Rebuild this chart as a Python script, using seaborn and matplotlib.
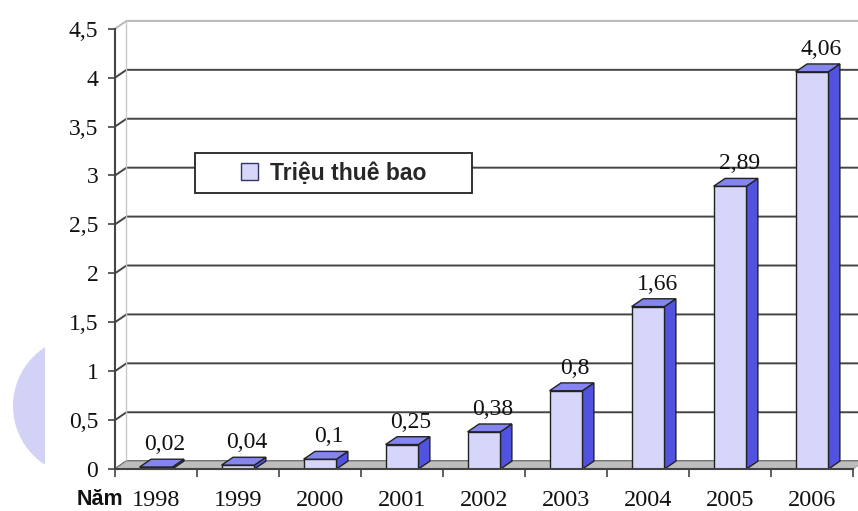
import matplotlib
matplotlib.use("Agg")
import matplotlib.pyplot as plt
from matplotlib.patches import Polygon, Rectangle, Circle
import seaborn as sns
import pandas as pd

# Data
years = ["1998", "1999", "2000", "2001", "2002", "2003", "2004", "2005", "2006"]
subscribers = [0.02, 0.04, 0.1, 0.25, 0.38, 0.8, 1.66, 2.89, 4.06]
value_labels = ["0,02", "0,04", "0,1", "0,25", "0,38", "0,8", "1,66", "2,89", "4,06"]
y_ticks = [0, 0.5, 1, 1.5, 2, 2.5, 3, 3.5, 4, 4.5]
y_tick_labels = ["0", "0,5", "1", "1,5", "2", "2,5", "3", "3,5", "4", "4,5"]
series_name = "Triệu thuê bao"
x_title = "Năm"

df = pd.DataFrame({"year": years, "value": subscribers})

FRONT = "#d6d6fa"
SIDE = "#5252e0"
TOP = "#8585f0"
EDGE = "#222222"
GRID = "#444444"

sns.set_theme(style="white")
plt.rcParams["font.family"] = ["Liberation Serif", "DejaVu Serif"]

W, H = 858, 511
fig = plt.figure(figsize=(W / 100, H / 100), dpi=100)

# decorative circle at far left
deco = fig.add_axes([0, 0, 45 / W, 1])
deco.set_xlim(0, 45)
deco.set_ylim(H, 0)
deco.axis("off")
deco.add_patch(Circle((83, 406), 70, color="#d2d2f6", lw=0))

ax_left, ax_right, ax_bottom, ax_top = 115, 853, 469, 17
ax = fig.add_axes([ax_left / W, (H - ax_bottom) / H,
                   (ax_right - ax_left) / W, (ax_bottom - ax_top) / H])

sns.barplot(data=df, x="year", y="value", color=FRONT, width=0.4,
            edgecolor=EDGE, linewidth=1.0, saturation=1, ax=ax, zorder=5,
            label=series_name)

ymax = 4.62
ax.set_xlim(-0.5, 8.5)
ax.set_ylim(0, ymax)
dx, dy = 0.14, 0.08

# back wall: gridlines with short diagonal from the axis
for t in y_ticks:
    c = "#b8b8b8" if t == y_ticks[-1] else GRID
    ax.plot([-0.5, -0.5 + dx, 8.5 + dx], [t, t + dy, t + dy], color=c,
            lw=1.4, zorder=1, clip_on=False, solid_capstyle="butt")
ax.plot([-0.5 + dx, -0.5 + dx], [dy, 4.5 + dy], color="#c8c8c8", lw=1.0, zorder=1)

# floor
ax.add_patch(Polygon([(-0.5, 0), (8.5, 0), (8.5 + dx, dy), (-0.5 + dx, dy)],
                     closed=True, facecolor="#bdbdbd", edgecolor="#9a9a9a",
                     lw=0.6, zorder=2, clip_on=False))

# 3D faces for each bar
for p, lab in zip(ax.patches[:len(years)], value_labels):
    x0 = p.get_x()
    x1 = x0 + p.get_width()
    h = p.get_height()
    ax.add_patch(Polygon([(x1, 0), (x1 + dx, dy), (x1 + dx, h + dy), (x1, h)],
                         closed=True, facecolor=SIDE, edgecolor=EDGE, lw=1.0,
                         zorder=4))
    ax.add_patch(Polygon([(x0, h), (x1, h), (x1 + dx, h + dy), (x0 + dx, h + dy)],
                         closed=True, facecolor=TOP, edgecolor=EDGE, lw=1.0,
                         zorder=6))
    ax.annotate(lab, (x0 + p.get_width() / 2 + dx * 0.8, h + dy),
                xytext=(0, 3), textcoords="offset points", ha="center",
                va="bottom", fontsize=17, color="#111111", zorder=7)

# axes styling
for s in ["top", "right"]:
    ax.spines[s].set_visible(False)
ax.spines["left"].set_color(GRID)
ax.spines["left"].set_linewidth(1.5)
ax.spines["left"].set_bounds(0, 4.5)
ax.spines["bottom"].set_color(GRID)
ax.spines["bottom"].set_linewidth(1.5)
ax.spines["bottom"].set_zorder(8)

ax.set_yticks(y_ticks, y_tick_labels)
ax.tick_params(axis="y", direction="out", length=5, width=1.2, color=GRID,
               pad=7, labelsize=17, labelcolor="#111111", left=True)

ax.set_xticks([i - 0.5 for i in range(len(years) + 1)], [""] * (len(years) + 1))
ax.set_xticks(range(len(years)), years, minor=True)
ax.tick_params(axis="x", which="major", direction="out", length=6, width=1.2,
               color=GRID, bottom=True)
ax.tick_params(axis="x", which="minor", length=0, pad=15, labelsize=17.5,
               labelcolor="#111111")
ax.set_xlabel("")
ax.set_ylabel("")

# legend with a wide square frame
lx0, lx1, ly0, ly1 = 195, 472, 193, 153
ax.add_patch(Rectangle(((lx0 - ax_left) / (ax_right - ax_left),
                        (ax_bottom - ly0) / (ax_bottom - ax_top)),
                       (lx1 - lx0) / (ax_right - ax_left),
                       (ly0 - ly1) / (ax_bottom - ax_top),
                       transform=ax.transAxes, facecolor="white",
                       edgecolor="#222222", lw=1.3, zorder=3))
leg = ax.legend(loc="center", frameon=False,
                bbox_to_anchor=(((lx0 + lx1) / 2 - ax_left) / (ax_right - ax_left),
                                (ax_bottom - (ly0 + ly1) / 2) / (ax_bottom - ax_top)),
                handlelength=0.75, handleheight=0.75, handletextpad=0.5,
                prop={"family": "Liberation Sans", "weight": "bold", "size": 16.5})
for hnd in leg.legend_handles:
    hnd.set_edgecolor("#333366")
leg.set_zorder(9)

fig.text(100 / W, 1 / H, x_title, ha="center", va="bottom",
         fontsize=15.5, fontweight="bold", family="Liberation Sans", color="#111111")

fig.savefig("out.png", dpi=100)
